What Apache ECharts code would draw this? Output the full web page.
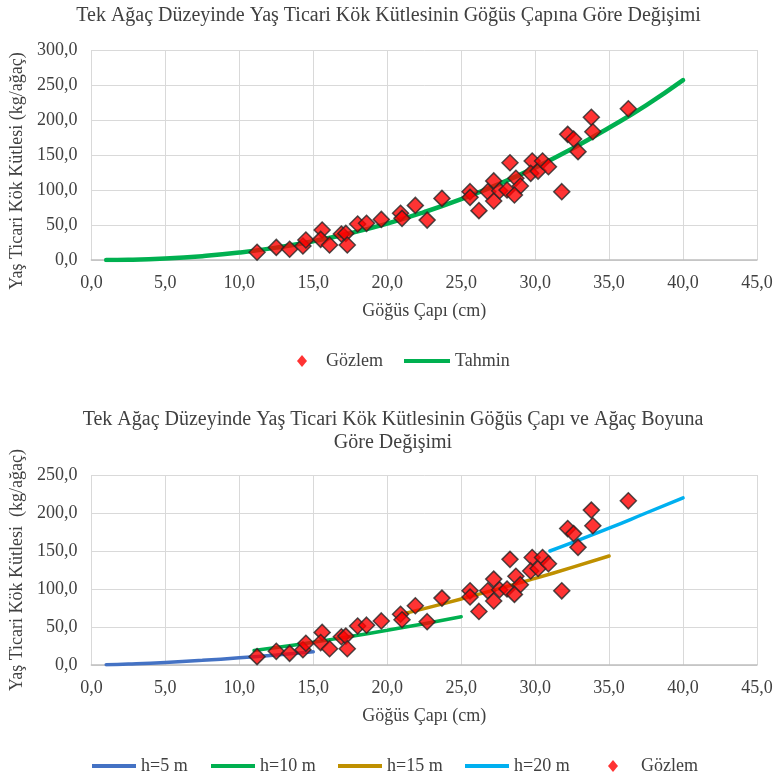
<!DOCTYPE html>
<html>
<head>
<meta charset="utf-8">
<script src="https://cdn.jsdelivr.net/npm/echarts@6/dist/echarts.min.js"></script>
<style>html,body{margin:0;padding:0;background:#fff}#c{width:777px;height:784px}</style>
</head>
<body>
<div id="c"></div>
<script>
// Observations (Gözlem)
const obsX = [11.2,12.5,13.4,14.3,14.5,15.6,15.5,16.1,16.9,17.2,17.3,18.0,18.6,19.6,20.9,21.0,21.9,22.7,23.7,25.6,25.6,26.2,27.2,26.8,27.2,27.6,28.1,28.3,28.7,29.0,28.6,29.8,29.7,30.2,30.5,30.9,31.8,32.2,32.6,32.9,33.8,33.9,36.3];
const obsY = [11,18,15.3,20,28.6,42.9,29.5,21.4,37.1,38,21.4,51.4,52.4,58,66.7,59.5,78,57,88,97.6,89.5,70.5,113,97.6,84.3,99,100,139,116.7,105.7,92.9,141.4,123.8,127,141.4,133.3,97.6,179.5,172.9,154.8,203.8,183.3,216];
// Tahmin curve (top chart)
const tahminX = [1,2.5,5,7.5,10,12.5,15,17.5,20,22.5,25,27.5,30,32.5,35,37.5,40];
const tahminY = [0.1,0.4,2.1,5.5,10.6,17.7,26.9,38.3,52,68.4,87,108,132,159,189,221,257];
// Height curves (bottom chart)
const h5X = [1,2.5,5,7.5,10,12.5,15];
const h5Y = [0.3,1.2,3.3,6.1,9.5,13.2,17.3];
const h10X = [11,12.5,15,17.5,20,22.5,25];
const h10Y = [19.0,22.9,30.0,37.6,45.7,54.4,63.5];
const h15X = [21,22.5,25,27.5,30,32.5,35];
const h15Y = [67,74.2,86.9,100.1,114,128.4,143.4];
const h20X = [31,32.5,35,37.5,40];
const h20Y = [150,161,180,200,220];
// Axis ticks
const xTicks = {min:0, max:45, interval:5};
const y1Ticks = {min:0, max:300, interval:50};
const y2Ticks = {min:0, max:250, interval:50};

const FONT = '"Liberation Serif", "Times New Roman", serif';
const TXT = '#404040';
const FS = 18;
const pairs = (xs, ys) => xs.map((x, i) => [x, ys[i]]);
const fmt = v => v.toFixed(1).replace('.', ',');

const xAxisBase = (gi) => ({
  type: 'value', gridIndex: gi, min: xTicks.min, max: xTicks.max, interval: xTicks.interval,
  name: 'Göğüs Çapı (cm)', nameLocation: 'middle', nameGap: 42,
  nameTextStyle: {fontFamily: FONT, fontSize: FS, color: TXT},
  axisLine: {show: true, onZero: false, lineStyle: {color: '#bfbfbf', width: 1.5}},
  axisTick: {show: false},
  axisLabel: {fontFamily: FONT, fontSize: FS, color: TXT, margin: 14, formatter: fmt},
  splitLine: {show: true, lineStyle: {color: '#d9d9d9', width: 1}}
});
const yAxisBase = (gi, t, name, pad) => ({
  type: 'value', gridIndex: gi, min: t.min, max: t.max, interval: t.interval,
  name: name, nameLocation: 'middle', nameGap: 64,
  nameTextStyle: {fontFamily: FONT, fontSize: FS, color: TXT, padding: pad},
  axisLine: {show: false}, axisTick: {show: false},
  axisLabel: {fontFamily: FONT, fontSize: FS, color: TXT, margin: 14, formatter: fmt},
  splitLine: {show: true, lineStyle: {color: '#d9d9d9', width: 1}}
});
const lineSeries = (name, xs, ys, color, xi, w) => ({
  name: name, type: 'line', xAxisIndex: xi, yAxisIndex: xi, data: pairs(xs, ys),
  smooth: true, showSymbol: false, symbol: 'none', z: 2,
  lineStyle: {color: color, width: w, cap: 'round'}, itemStyle: {color: color}
});
const scatterSeries = (xi) => ({
  name: 'Gözlem', type: 'scatter', xAxisIndex: xi, yAxisIndex: xi, data: pairs(obsX, obsY),
  symbol: 'diamond', symbolSize: [16, 16], z: 5,
  itemStyle: {color: '#ff0000', borderColor: '#262626', borderWidth: 1.5}
});
const legendItem = (name, left, top, icon, w, h, color, pad) => ({
  data: [{name: name, icon: icon, itemStyle: {color: color, borderWidth: 0}}],
  left: left, top: top, itemWidth: w, itemHeight: h, itemGap: 0, padding: 0,
  selectedMode: false,
  textStyle: {fontFamily: FONT, fontSize: FS, color: TXT, padding: [0, 0, 0, pad || 0]}
});

const chart = echarts.init(document.getElementById('c'), null, {renderer: 'canvas'});
chart.setOption({
  animation: false,
  backgroundColor: '#ffffff',
  title: [
    {text: 'Tek Ağaç Düzeyinde Yaş Ticari Kök Kütlesinin Göğüs Çapına Göre Değişimi',
     left: 'center', top: 1, textStyle: {fontFamily: FONT, fontSize: 20, fontWeight: 'normal', color: TXT}},
    {text: 'Tek Ağaç Düzeyinde Yaş Ticari Kök Kütlesinin Göğüs Çapı ve Ağaç Boyuna\nGöre Değişimi',
     left: 388, top: 403, textAlign: 'center',
     textStyle: {fontFamily: FONT, fontSize: 20, fontWeight: 'normal', color: TXT, lineHeight: 23}}
  ],
  grid: [
    {left: 90, right: 20, top: 50, height: 210},
    {left: 90, right: 20, top: 475, height: 190}
  ],
  xAxis: [xAxisBase(0), xAxisBase(1)],
  yAxis: [yAxisBase(0, y1Ticks, 'Yaş Ticari Kök Kütlesi (kg/ağaç)', [0, 32, 0, 0]),
          yAxisBase(1, y2Ticks, 'Yaş Ticari Kök Kütlesi  (kg/ağaç)', 0)],
  legend: [
    legendItem('Gözlem', 297, 352, 'diamond', 10, 12, '#ff0000', 14),
    legendItem('Tahmin', 404, 352, 'rect', 46, 4, '#00b050', 0),
    legendItem('h=5 m', 92, 757, 'rect', 44, 4, '#4472c4', 0),
    legendItem('h=10 m', 211, 757, 'rect', 44, 4, '#00b050', 0),
    legendItem('h=15 m', 338, 757, 'rect', 44, 4, '#bf9000', 0),
    legendItem('h=20 m', 465, 757, 'rect', 44, 4, '#00b0f0', 0),
    legendItem('Gözlem', 608, 757, 'diamond', 10, 12, '#ff0000', 18)
  ],
  series: [
    scatterSeries(0),
    lineSeries('Tahmin', tahminX, tahminY, '#00b050', 0, 4.5),
    lineSeries('h=5 m', h5X, h5Y, '#4472c4', 1, 3.5),
    lineSeries('h=10 m', h10X, h10Y, '#00b050', 1, 3.5),
    lineSeries('h=15 m', h15X, h15Y, '#bf9000', 1, 3.5),
    lineSeries('h=20 m', h20X, h20Y, '#00b0f0', 1, 3.5),
    scatterSeries(1)
  ]
});
</script>
</body>
</html>
